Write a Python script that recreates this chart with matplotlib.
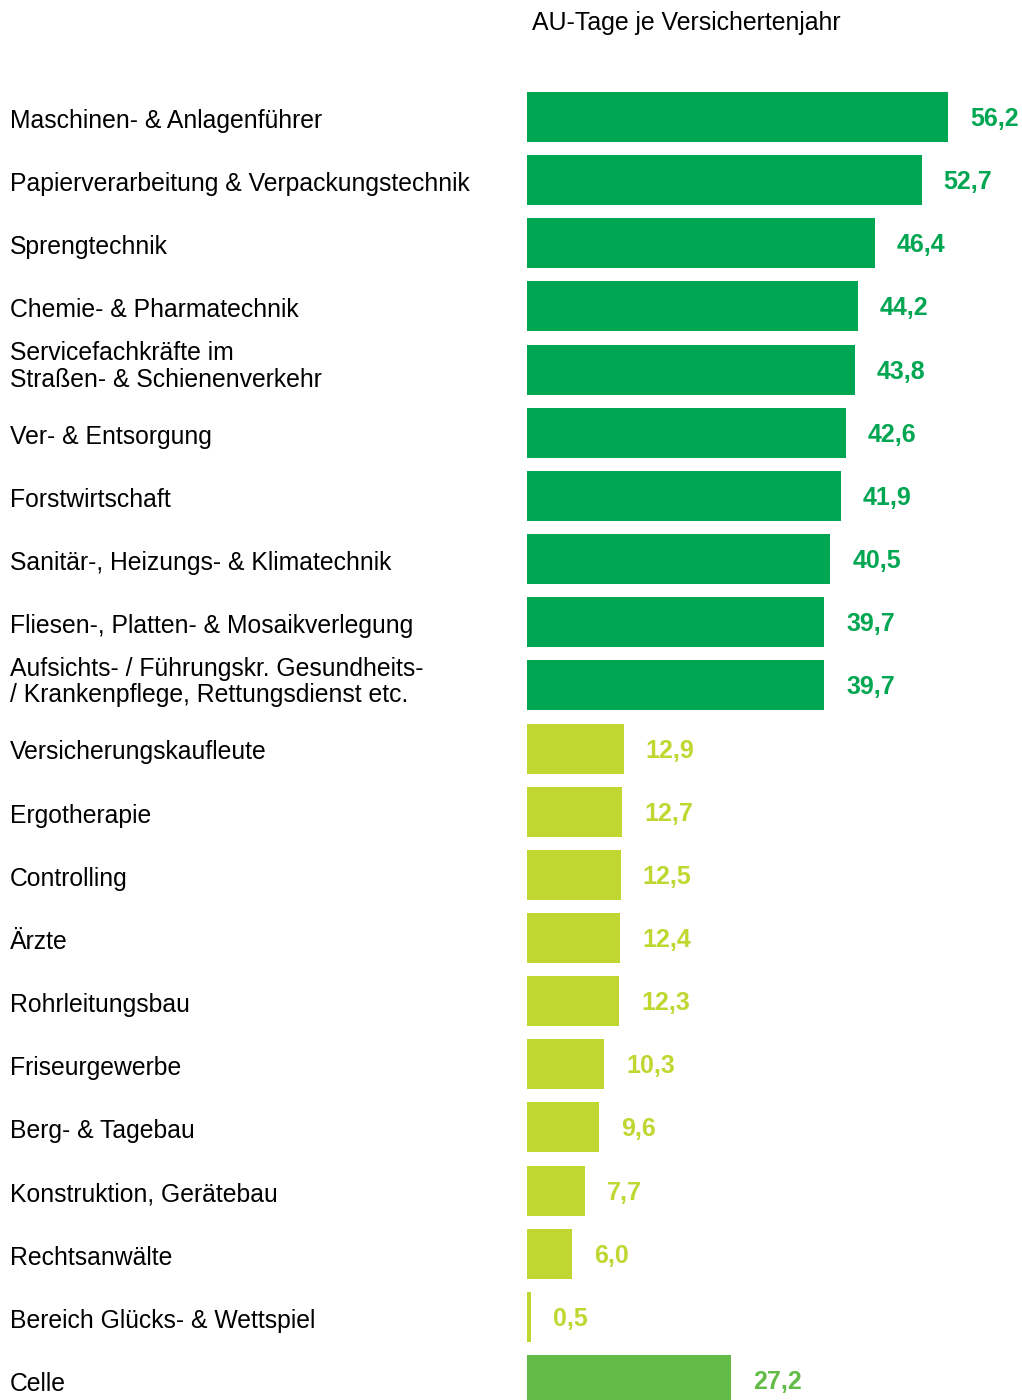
import matplotlib
matplotlib.use("Agg")
import matplotlib.pyplot as plt

categories = [
    "Maschinen- & Anlagenführer",
    "Papierverarbeitung & Verpackungstechnik",
    "Sprengtechnik",
    "Chemie- & Pharmatechnik",
    "Servicefachkräfte im\nStraßen- & Schienenverkehr",
    "Ver- & Entsorgung",
    "Forstwirtschaft",
    "Sanitär-, Heizungs- & Klimatechnik",
    "Fliesen-, Platten- & Mosaikverlegung",
    "Aufsichts- / Führungskr. Gesundheits-\n/ Krankenpflege, Rettungsdienst etc.",
    "Versicherungskaufleute",
    "Ergotherapie",
    "Controlling",
    "Ärzte",
    "Rohrleitungsbau",
    "Friseurgewerbe",
    "Berg- & Tagebau",
    "Konstruktion, Gerätebau",
    "Rechtsanwälte",
    "Bereich Glücks- & Wettspiel",
    "Celle",
]
values = [56.2, 52.7, 46.4, 44.2, 43.8, 42.6, 41.9, 40.5, 39.7, 39.7,
          12.9, 12.7, 12.5, 12.4, 12.3, 10.3, 9.6, 7.7, 6.0, 0.5, 27.2]
groups = ["high"] * 10 + ["low"] * 10 + ["region"]
title = "AU-Tage je Versichertenjahr"

palette = {"high": "#00A651", "low": "#BFD730", "region": "#62BB46"}

plt.rcParams["font.family"] = ["Liberation Sans", "DejaVu Sans"]

W, H = 1022, 1400
fig = plt.figure(figsize=(W / 100, H / 100), dpi=100)
ax_left = 527 / W
ax = fig.add_axes([ax_left, 0, 1 - ax_left, 1])

px_per_unit = (948 - 527) / 56.2
spacing = 63.15
first_center = 117
ax.set_xlim(0, (W - 527) / px_per_unit)
ymin = -first_center / spacing
ymax = (H - first_center) / spacing
ax.set_ylim(ymax, ymin)
ax.axis("off")

ys = list(range(len(values)))
colors = [palette[g] for g in groups]
ax.barh(ys, values, height=50 / spacing, color=colors, left=0)

off = 22 / px_per_unit
for y, v, c in zip(ys, values, colors):
    ax.text(v + off, y + 2 / spacing, f"{v:.1f}".replace(".", ","), va="center", ha="left",
            fontsize=18, fontweight="bold", color=c)

for y, lab in zip(ys, categories):
    yy = y + 4 / spacing if "\n" not in lab else y - 3 / spacing
    ax.text(-(527 - 10) / px_per_unit, yy, lab, va="center", ha="left",
            fontsize=17.8, color="black", linespacing=1.12, clip_on=False)

fig.text(532 / W, 1 - 23 / H, title, va="center", ha="left", fontsize=17.9, color="black")

fig.savefig("out.png", dpi=100)
